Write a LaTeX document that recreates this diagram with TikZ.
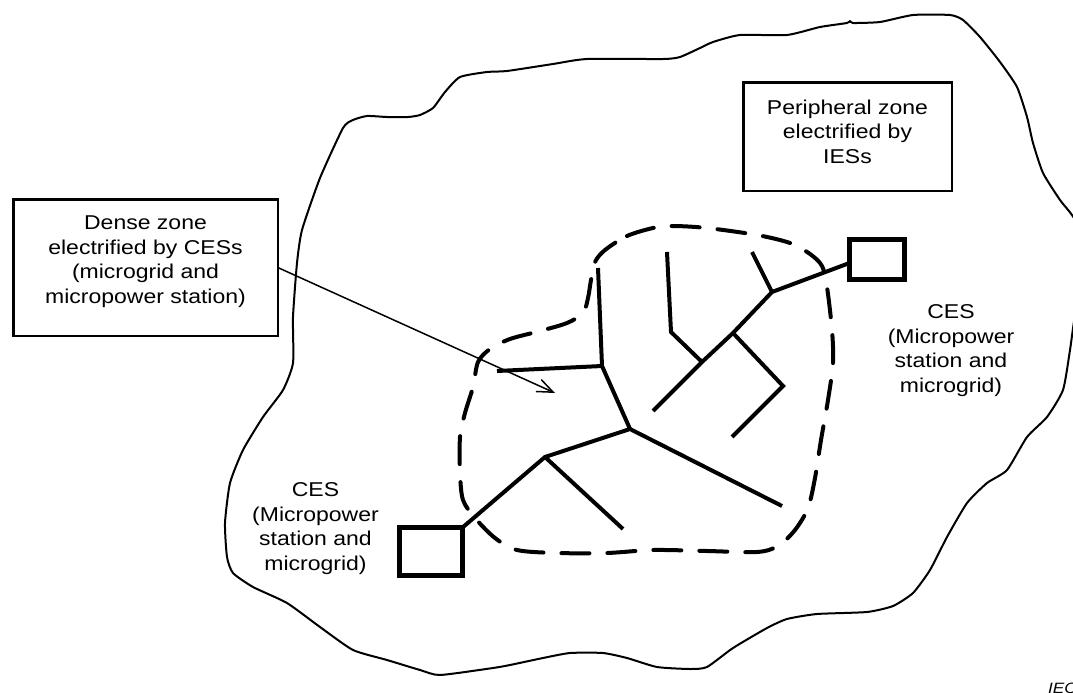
\documentclass[tikz,border=0pt]{standalone}
\usepackage{fontspec}
\setmainfont{Liberation Sans}[FakeStretch=1.15]
\usetikzlibrary{arrows.meta,calc}
\begin{document}
\begin{tikzpicture}[x=1pt,y=-1pt,
  every node/.style={inner sep=0pt, outer sep=0pt},
  zonebox/.style={draw, line width=2.5pt},
  cesbox/.style={draw, line width=5pt},
  feeder/.style={line width=4pt},
  outline/.style={line width=2pt, line join=round},
  densezone/.style={line width=4pt, line cap=round, dash pattern=on 28pt off 18pt},
  pointer/.style={line width=1.5pt, -{Straight Barb[length=16pt,width=13pt,line width=1.5pt]}},
  labeltext/.style={font=\fontsize{20pt}{24.5pt}\selectfont, align=center, anchor=north},
  credit/.style={font=\fontsize{15pt}{18pt}\selectfont\itshape, anchor=north west}
]
\useasboundingbox (0,0) rectangle (1073,693);
\clip (0,0) rectangle (1073,693);
\fill[white] (0,0) rectangle (1073,693);

% peripheral zone outline
\draw[outline] plot[smooth cycle, tension=0.35] coordinates {
 (302,230) (320,178) (343,128) (353,120) (367,116) (387,117) (408,117) (420,115)
 (433,108) (445,92) (460,77) (487,72) (507,71) (553,64) (587,59) (663,59) (680,57)
 (700,48) (713,42) (740,35) (787,35) (820,27) (847,23) (850,21) (853,23) (880,22)
 (913,15) (950,15) (963,20) (980,37) (1000,62) (1017,87) (1027,117) (1033,143)
 (1043,173) (1060,200) (1075,220) (1090,265) (1076,310) (1070,350) (1063,390)
 (1047,417) (1027,437) (1007,470) (987,483) (967,503) (947,537) (930,570) (913,593)
 (893,606) (867,612) (817,614) (787,619) (767,628) (733,648) (707,667) (690,669)
 (657,667) (627,658) (603,653) (570,653) (543,658) (510,665) (493,668) (440,675)
 (420,670) (387,660) (353,650) (320,627) (287,603) (253,587) (233,573) (227,557)
 (225,523) (230,483) (243,450) (263,417) (283,390) (293,363) (293,317) (297,263)};

% dense zone outline
\draw[densezone] plot[smooth cycle, tension=0.5] coordinates {
 (605,250) (627,236) (653,228) (673,226) (707,228) (757,235) (790,243) (810,254)
 (822,266) (827,287) (832,330) (833,363) (828,400) (821,440) (815,478) (808,508)
 (795,530) (778,546) (757,552) (707,551) (653,550) (607,553) (557,553) (517,550)
 (495,538) (475,518) (463,500) (460,473) (460,437) (465,413) (473,387) (478,362)
 (490,349) (510,339) (540,331) (567,323) (583,313) (588,298) (591,280) (595,262)};

% boxes
\node[zonebox, minimum width=264.5pt, minimum height=136.5pt] (dense) at (145.5,267.5) {};
\node[zonebox, minimum width=208.5pt, minimum height=108.5pt] (peri) at (847.5,136.5) {};
\node[cesbox, minimum width=63pt, minimum height=48pt] (cesL) at (431,551.5) {};
\node[cesbox, minimum width=55pt, minimum height=40pt] (cesR) at (877,259.5) {};

% texts
\node[labeltext] (denseText) at (145.5,216) {Dense zone\\electrified by CESs\\(microgrid and\\micropower station)};
\node[labeltext] (periText) at (847.5,100) {Peripheral zone\\electrified by\\IESs};
\node[labeltext] (cesRText) at (951,305) {CES\\(Micropower\\station and\\microgrid)};
\node[labeltext] (cesLText) at (315.5,483) {CES\\(Micropower\\station and\\microgrid)};
\node[credit] (iec) at (1048,683) {IEC};

% feeder network
\coordinate (a) at (545,457);
\coordinate (b) at (630,429);
\coordinate (c) at (623,529);
\coordinate (d) at (782,506);
\coordinate (e) at (602,366);
\coordinate (f) at (497,371);
\coordinate (g) at (598,268);
\coordinate (h) at (653,411);
\coordinate (i) at (702,362);
\coordinate (j) at (733,333);
\coordinate (k) at (772,292);
\coordinate (l) at (752,252);
\coordinate (m) at (671,332);
\coordinate (n) at (667,252);
\coordinate (o) at (783,386);
\coordinate (p) at (732,437);
\coordinate (r) at ($(cesR.west)+(0,3.5)$);

\draw[feeder] (cesL.north east) -- (a) -- (b) -- (d);
\draw[feeder] (a) -- (c);
\draw[feeder] (b) -- (e) -- (g);
\draw[feeder] (e) -- (f);
\draw[feeder] (h) -- (i) -- (j) -- (k) -- (r);
\draw[feeder] (k) -- (l);
\draw[feeder] (i) -- (m) -- (n);
\draw[feeder] (j) -- (o) -- (p);

% pointer
\coordinate (tip) at (555,393);
\draw[pointer] (dense.east) -- (tip);
\end{tikzpicture}
\end{document}
